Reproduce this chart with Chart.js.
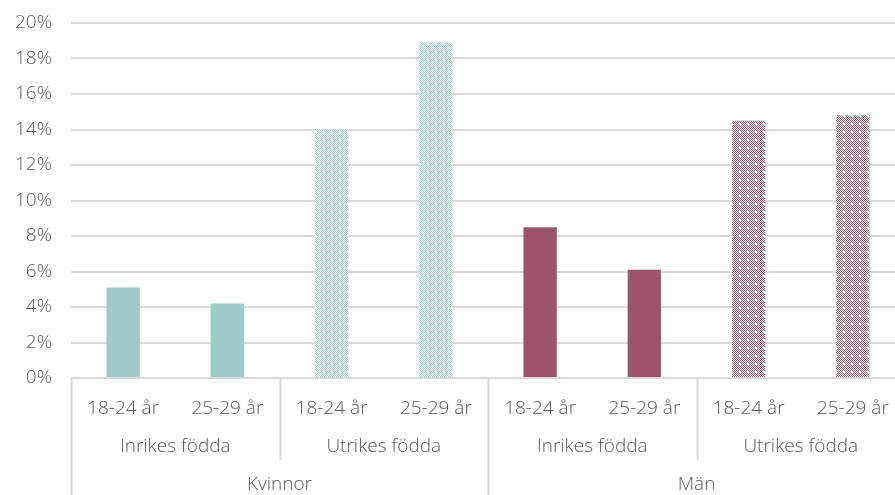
<!DOCTYPE html>
<html>
<head>
<meta charset="utf-8">
<script src="https://cdn.jsdelivr.net/npm/chart.js@4"></script>
<style>
  html, body { margin: 0; padding: 0; background: #fff; overflow: hidden; }
  #wrap { width: 895px; height: 495px; overflow: hidden; }
</style>
</head>
<body>
<div id="wrap"><canvas id="chart" width="905" height="495"></canvas></div>
<script>
// --- data ---
const ageLabels = ['18-24 år', '25-29 år', '18-24 år', '25-29 år', '18-24 år', '25-29 år', '18-24 år', '25-29 år'];
const birthGroups = ['Inrikes födda', 'Utrikes födda', 'Inrikes födda', 'Utrikes födda'];
const genders = ['Kvinnor', 'Män'];
const shares = [5.1, 4.2, 14.0, 18.9, 8.5, 6.1, 14.5, 14.8];
const yMax = 20;
const yStep = 2;

const TEAL = '#9fcbc9';
const MAROON = '#9b546c';
const TEXT = '#595959';
const LINE = '#d9d9d9';
const FONT = "'Open Sans', sans-serif";

// small checkered fill used for the "Utrikes födda" bars
function makePattern(color, dot) {
    const c = document.createElement('canvas');
    c.width = 8; c.height = 8;
    const g = c.getContext('2d');
    g.fillStyle = '#fff';
    g.fillRect(0, 0, 8, 8);
    g.fillStyle = color;
    for (let y = 0; y < 8; y++) {
        for (let x = 0; x < 8; x++) {
            if ((x + y) % 2 === 0) g.fillRect(x, y, 1, 1);
        }
    }
    g.fillStyle = dot;
    g.fillRect(3, 3, 2, 2);
    return g.createPattern(c, 'repeat');
}

const ctx = document.getElementById('chart').getContext('2d');
const tealPattern = makePattern(TEAL, '#fff');
const maroonPattern = makePattern(MAROON, '#fff');
const fills = [TEAL, TEAL, tealPattern, tealPattern, MAROON, MAROON, maroonPattern, maroonPattern];

// grouped category rows below the tick labels
const groupAxis = {
    id: 'groupAxis',
    afterDraw(chart) {
        const x = chart.scales.x;
        const c = chart.ctx;
        const top = chart.chartArea.bottom;
        const step = x.getPixelForValue(1) - x.getPixelForValue(0);
        const edge = i => x.getPixelForValue(i) - step / 2;
        c.save();
        c.strokeStyle = LINE;
        c.lineWidth = 2;
        // axis line
        c.beginPath();
        c.moveTo(edge(0), top);
        c.lineTo(x.right, top);
        c.stroke();
        // separators
        [[0, 495], [2, 460], [4, 495], [6, 460]].forEach(([i, bottom]) => {
            const px = Math.round(edge(i)) + 0.5;
            c.beginPath();
            c.moveTo(px, top);
            c.lineTo(px, bottom);
            c.stroke();
        });
        c.fillStyle = TEXT;
        c.font = '300 19px ' + FONT;
        c.textAlign = 'center';
        c.textBaseline = 'middle';
        birthGroups.forEach((name, i) => {
            c.fillText(name, (edge(i * 2) + edge(i * 2 + 2)) / 2, 447);
        });
        genders.forEach((name, i) => {
            c.fillText(name, (edge(i * 4) + edge(i * 4 + 4)) / 2, 485);
        });
        c.restore();
    }
};

new Chart(ctx, {
    type: 'bar',
    data: {
        labels: ageLabels,
        datasets: [{
            data: shares,
            backgroundColor: fills,
            barPercentage: 0.32,
            categoryPercentage: 1
        }]
    },
    options: {
        responsive: false,
        animation: false,
        layout: { padding: { top: 23, right: 0, bottom: 0, left: 0 } },
        plugins: { legend: { display: false }, tooltip: { enabled: false } },
        scales: {
            x: {
                grid: { display: false },
                border: { display: false },
                ticks: { color: TEXT, font: { family: FONT, size: 19, weight: '300' }, padding: 11, maxRotation: 0 },
                afterFit: s => { s.height = 117; s.paddingLeft = 0; s.paddingRight = 0; }
            },
            y: {
                min: 0,
                max: yMax,
                ticks: {
                    stepSize: yStep,
                    color: TEXT,
                    font: { family: FONT, size: 19, weight: '300' },
                    padding: 19,
                    callback: v => v + '%'
                },
                grid: { color: LINE, lineWidth: 2, drawTicks: false },
                border: { display: false },
                afterFit: s => { s.width = 71; s.paddingTop = 0; s.paddingBottom = 0; }
            }
        }
    },
    plugins: [groupAxis]
});
</script>
</body>
</html>
